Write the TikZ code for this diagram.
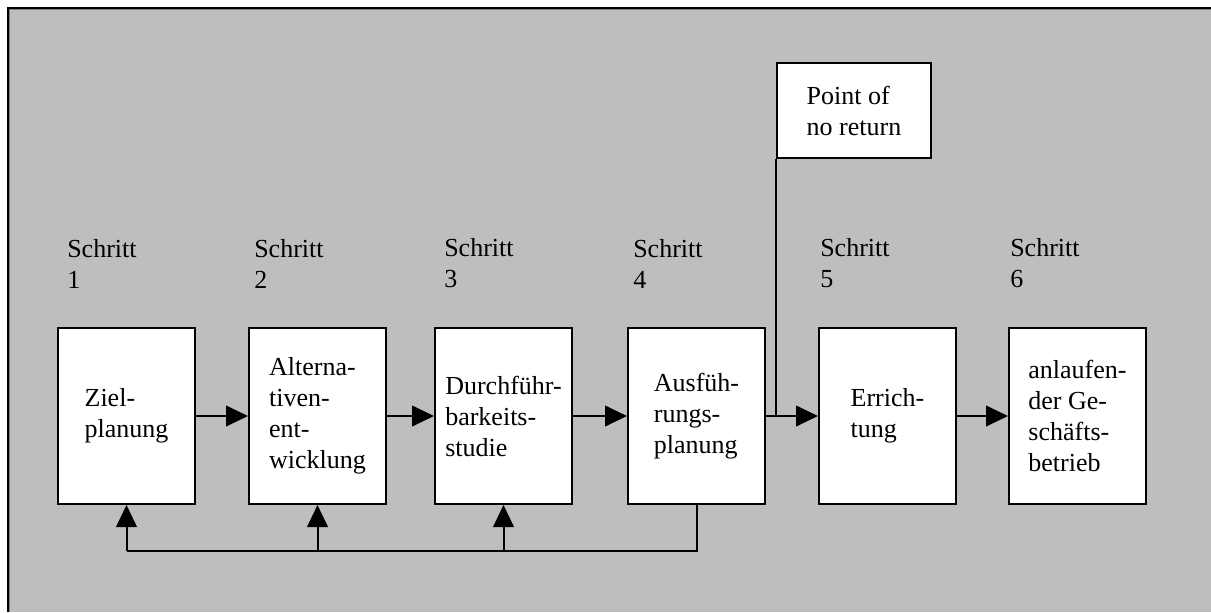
\documentclass[tikz,border=0pt]{standalone}
\usepackage{fontspec}
\setmainfont{Liberation Serif}
\usetikzlibrary{arrows.meta}
\definecolor{panelgray}{RGB}{190,190,190}
\definecolor{edgegray}{RGB}{128,128,128}
\begin{document}
\begin{tikzpicture}[x=0.75pt,y=-0.75pt,
  txt/.style={font=\fontsize{19.5}{23.25}\selectfont},
  stepbox/.style={draw, line width=1.5pt, fill=white, minimum width=102.75pt,
    minimum height=132pt, inner sep=0pt, align=left, txt},
  notebox/.style={draw, line width=1.5pt, fill=white, minimum width=115.5pt,
    minimum height=71.25pt, inner sep=0pt, align=left, txt},
  steplabel/.style={anchor=west, inner sep=0pt, align=left, txt},
  flow/.style={line width=1.5pt},
  arr/.style={flow, -{Triangle[length=16.5pt,width=15.5pt]}}]
\useasboundingbox (0,0) rectangle (1211,612);
% panel with a frame on its top and left edges
\fill[white] (0,0) rectangle (1211,612);
\fill[panelgray] (7,7) rectangle (1211,612);
\draw[edgegray, line width=0.75pt] (9.5,612) -- (9.5,9.5) -- (1211,9.5);
\draw[line width=1.5pt] (8,612) -- (8,8) -- (1211,8);

% step labels
\node[steplabel] (s1) at (67,263.5) {Schritt\\1};
\node[steplabel] (s2) at (254,263.5) {Schritt\\2};
\node[steplabel] (s3) at (444,263.5) {Schritt\\3};
\node[steplabel] (s4) at (633,263.5) {Schritt\\4};
\node[steplabel] (s5) at (820,263.5) {Schritt\\5};
\node[steplabel] (s6) at (1010,263.5) {Schritt\\6};

% process steps
\node[stepbox] (b1) at (126.5,416) {Ziel-\\planung};
\node[stepbox] (b2) at (317.5,416) {Alterna-\\tiven-\\ent-\\wicklung};
\node[stepbox] (b3) at (503.5,416) {Durchführ-\\barkeits-\\studie};
\node[stepbox] (b4) at (696.5,416) {Ausfüh-\\rungs-\\planung};
\node[stepbox] (b5) at (887.5,416) {Errich-\\tung};
\node[stepbox] (b6) at (1077.5,416) {anlaufen-\\der Ge-\\schäfts-\\betrieb};

% marker
\node[notebox] (pnr) at (854,110.5) {Point of\\no return};

% forward flow
\draw[arr] (b1.east) -- (b2.west);
\draw[arr] (b2.east) -- (b3.west);
\draw[arr] (b3.east) -- (b4.west);
\draw[arr] (b4.east) -- (b5.west);
\draw[arr] (b5.east) -- (b6.west);
\draw[flow] (pnr.south west) -- (pnr.south west |- b4.east);

% feedback loop
\coordinate (fb) at (0,551);
\draw[flow] (b4.south) -- (b4.south |- fb) -- (b1.south |- fb);
\draw[arr] (b1.south |- fb) -- (b1.south);
\draw[arr] (b2.south |- fb) -- (b2.south);
\draw[arr] (b3.south |- fb) -- (b3.south);
\end{tikzpicture}
\end{document}
